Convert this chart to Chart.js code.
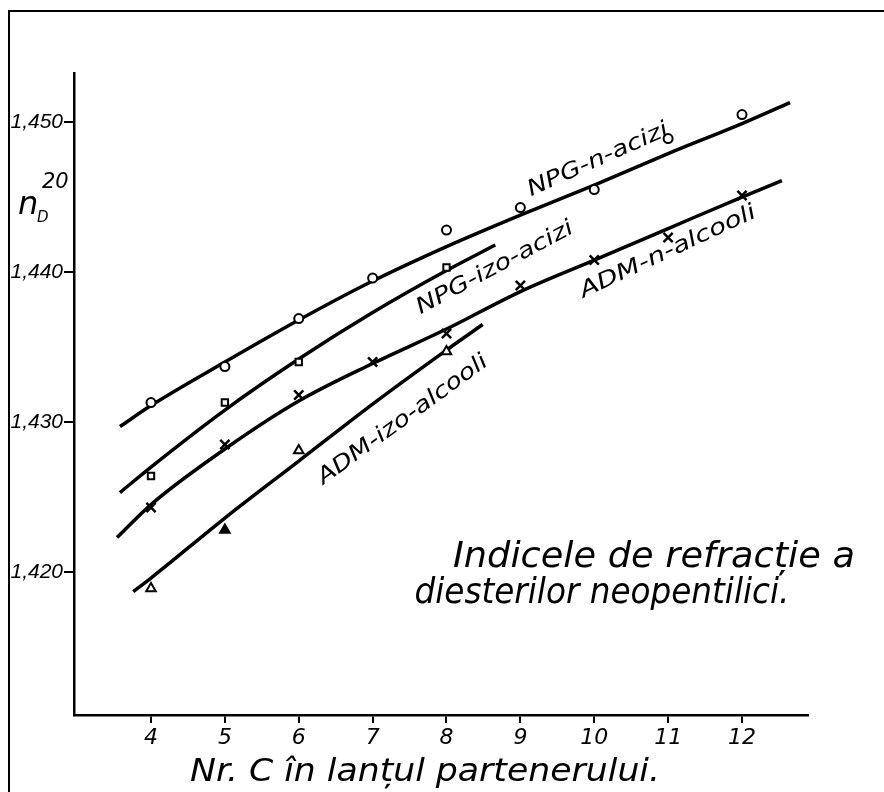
<!DOCTYPE html>
<html>
<head>
<meta charset="utf-8">
<script src="https://cdn.jsdelivr.net/npm/chart.js@4/dist/chart.umd.min.js"></script>
<style>
  html, body { margin: 0; padding: 0; background: #fff; }
  #wrap { width: 884px; height: 792px; }
</style>
</head>
<body>
<div id="wrap"><canvas id="c" width="884" height="792"></canvas></div>
<script>
// ---- data ----
const xTickValues = [4, 5, 6, 7, 8, 9, 10, 11, 12];
const xTickLabels = ["4", "5", "6", "7", "8", "9", "10", "11", "12"];
const yTickValues = [1.420, 1.430, 1.440, 1.450];
const yTickLabels = ["1,420", "1,430", "1,440", "1,450"];

// measured points
const npgNX = [4, 5, 6, 7, 8, 9, 10, 11, 12];
const npgNAcizi = [1.4313, 1.4337, 1.4369, 1.4396, 1.4428, 1.4443, 1.4455, 1.4489, 1.4505];
const npgIzoX = [4, 5, 6, 8];
const npgIzoAcizi = [1.4264, 1.4313, 1.4340, 1.4403];
const admNX = [4, 5, 6, 7, 8, 9, 10, 11, 12];
const admNAlcooli = [1.4243, 1.4285, 1.4318, 1.4340, 1.4359, 1.4391, 1.4408, 1.4423, 1.4451];
const admIzoX = [4, 5, 6, 8];
const admIzoAlcooli = [1.4189, 1.4228, 1.4281, 1.4347];

// hand-drawn fitted curves
const npgNCurveX = [3.58, 4, 5, 6, 7, 8, 9, 10, 11, 12, 12.65];
const npgNCurveY = [1.4297, 1.4311, 1.4340, 1.4368, 1.4394, 1.4417, 1.4438, 1.4458, 1.4479, 1.4499, 1.4513];
const npgIzoCurveX = [3.58, 4, 5, 6, 7, 8, 8.66];
const npgIzoCurveY = [1.4253, 1.4270, 1.4308, 1.4342, 1.4373, 1.4401, 1.4418];
const admNCurveX = [3.54, 4, 5, 6, 7, 8, 9, 10, 11, 12, 12.54];
const admNCurveY = [1.4223, 1.4245, 1.4282, 1.4314, 1.4339, 1.4362, 1.4387, 1.4408, 1.4429, 1.4450, 1.4461];
const admIzoCurveX = [3.76, 4, 5, 6, 7, 8, 8.49];
const admIzoCurveY = [1.4187, 1.4196, 1.4236, 1.4274, 1.4312, 1.4348, 1.4365];

const seriesNames = ["NPG-n-acizi", "NPG-izo-acizi", "ADM-n-alcooli", "ADM-izo-alcooli"];
const titleLines = ["Indicele de refracție a", "diesterilor neopentilici."];
const xTitle = "Nr. C în lanțul partenerului.";

// ---- helpers ----
const pts = (xs, ys) => xs.map((x, i) => ({ x: x, y: ys[i] }));
const FONT = '"DejaVu Sans", "Liberation Sans", sans-serif';

function fitText(ctx, text, fontPx, cx, cy, width, angleDeg) {
  ctx.save();
  ctx.font = 'italic ' + fontPx + 'px ' + FONT;
  const w = ctx.measureText(text).width;
  ctx.translate(cx, cy);
  ctx.rotate(-angleDeg * Math.PI / 180);
  ctx.scale(width / w, 1);
  ctx.textAlign = 'center';
  ctx.fillStyle = '#000';
  ctx.fillText(text, 0, 0);
  ctx.restore();
}

const decor = {
  id: 'decor',
  beforeDraw(chart) {
    const ctx = chart.ctx;
    ctx.save();
    ctx.fillStyle = '#fff';
    ctx.fillRect(0, 0, chart.width, chart.height);
    // page frame (top + left)
    ctx.strokeStyle = '#000';
    ctx.lineWidth = 2;
    ctx.beginPath();
    ctx.moveTo(884, 11);
    ctx.lineTo(9, 11);
    ctx.lineTo(9, 792);
    ctx.stroke();
    ctx.restore();
  },
  afterDraw(chart) {
    const ctx = chart.ctx;
    ctx.save();
    ctx.textBaseline = 'alphabetic';
    // title
    fitText(ctx, titleLines[0], 35, 654, 567, 402, 0);
    fitText(ctx, titleLines[1], 35, 602, 603, 375, 0);
    // x axis title
    fitText(ctx, xTitle, 32, 425, 781, 470, 0);
    // curve labels
    ctx.textBaseline = 'middle';
    fitText(ctx, seriesNames[0], 22, 598, 160, 152, 24);
    fitText(ctx, seriesNames[1], 22, 495, 268, 175, 28);
    fitText(ctx, seriesNames[2], 22, 668, 252, 192, 25);
    fitText(ctx, seriesNames[3], 22, 403, 420, 205, 36);
    // y axis title n_D^20
    ctx.textBaseline = 'alphabetic';
    ctx.fillStyle = '#000';
    ctx.textAlign = 'left';
    ctx.font = 'italic 32px ' + FONT;
    ctx.fillText('n', 18, 214);
    ctx.font = 'italic 15px ' + FONT;
    ctx.fillText('D', 37, 222);
    ctx.font = 'italic 21px ' + FONT;
    ctx.fillText('20', 42, 188);
    ctx.restore();
  }
};

const lineStyle = {
  type: 'line', showLine: true, borderColor: '#000', borderWidth: 3.5,
  pointRadius: 0, pointHoverRadius: 0, fill: false,
  cubicInterpolationMode: 'monotone', order: 2
};
const markStyle = {
  type: 'scatter', borderColor: '#000', backgroundColor: '#fff',
  borderWidth: 2, showLine: false, order: 1
};

new Chart(document.getElementById('c'), {
  type: 'scatter',
  data: {
    datasets: [
      Object.assign({ label: seriesNames[0] + ' curve', data: pts(npgNCurveX, npgNCurveY) }, lineStyle),
      Object.assign({ label: seriesNames[1] + ' curve', data: pts(npgIzoCurveX, npgIzoCurveY) }, lineStyle),
      Object.assign({ label: seriesNames[2] + ' curve', data: pts(admNCurveX, admNCurveY) }, lineStyle),
      Object.assign({ label: seriesNames[3] + ' curve', data: pts(admIzoCurveX, admIzoCurveY) }, lineStyle),
      Object.assign({ label: seriesNames[0], data: pts(npgNX, npgNAcizi), pointStyle: 'circle', pointRadius: 4.5 }, markStyle),
      Object.assign({ label: seriesNames[1], data: pts(npgIzoX, npgIzoAcizi), pointStyle: 'rect', pointRadius: 4.5 }, markStyle),
      Object.assign({ label: seriesNames[2], data: pts(admNX, admNAlcooli), pointStyle: 'crossRot', pointRadius: 6.5 }, markStyle, { borderWidth: 2.5 }),
      Object.assign({ label: seriesNames[3], data: pts(admIzoX, admIzoAlcooli), pointStyle: 'triangle', pointRadius: 5.5,
        pointBackgroundColor: ['#fff', '#000', '#fff', '#fff'] }, markStyle)
    ]
  },
  options: {
    responsive: false,
    animation: false,
    devicePixelRatio: 1,
    layout: { padding: { left: 0, top: 73, right: 76, bottom: 0 } },
    plugins: { legend: { display: false }, tooltip: { enabled: false } },
    scales: {
      x: {
        type: 'linear',
        min: 2.9577, max: 12.8934,
        afterFit: (s) => { s.height = 77; },
        afterBuildTicks: (s) => { s.ticks = xTickValues.map(v => ({ value: v })); },
        ticks: {
          autoSkip: false, maxRotation: 0, padding: 2, color: '#000',
          font: { family: FONT, size: 22, style: 'italic' },
          callback: (v, i) => xTickLabels[i]
        },
        grid: { drawOnChartArea: false, drawTicks: true, tickLength: 8, color: '#000', lineWidth: 2 },
        border: { display: true, color: '#000', width: 2.5 }
      },
      y: {
        type: 'linear',
        min: 1.41047, max: 1.45327,
        afterFit: (s) => { s.width = 74; },
        afterBuildTicks: (s) => { s.ticks = yTickValues.map(v => ({ value: v })); },
        ticks: {
          autoSkip: false, padding: 1, color: '#000',
          font: { family: '"Liberation Sans", sans-serif', size: 21, style: 'italic' },
          callback: (v, i) => yTickLabels[i]
        },
        grid: { drawOnChartArea: false, drawTicks: true, tickLength: 10, color: '#000', lineWidth: 2 },
        border: { display: true, color: '#000', width: 2.5 }
      }
    }
  },
  plugins: [decor]
});
</script>
</body>
</html>
